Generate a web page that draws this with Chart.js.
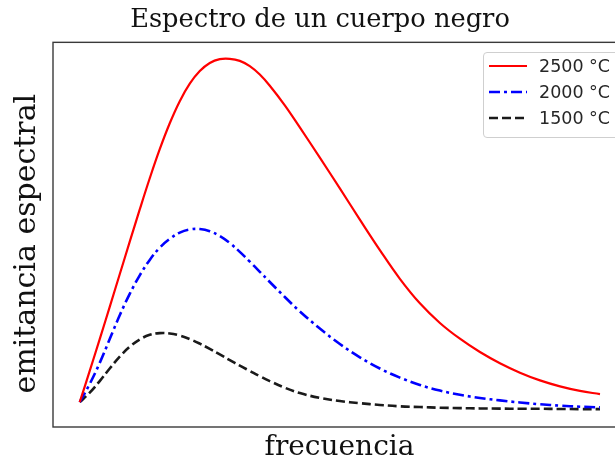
<!DOCTYPE html>
<html>
<head>
<meta charset="utf-8">
<script src="https://cdn.jsdelivr.net/npm/chart.js@4/dist/chart.umd.min.js"></script>
<style>
  html, body { margin: 0; padding: 0; background: #fff; overflow: hidden; }
  #wrap { position: relative; width: 640px; height: 464px; }
  #legend {
    position: absolute; left: 483px; top: 52px; width: 150px; height: 84px;
    border: 1px solid #cfcfcf; border-radius: 4px; background: rgba(255,255,255,0.85);
    font-family: "DejaVu Sans", sans-serif; font-size: 17.5px; color: #262626;
  }
  .row { position: absolute; left: 0; height: 26px; width: 150px; }
  .row svg { position: absolute; left: 5px; top: 0; }
  .row span { position: absolute; left: 55px; top: 0; line-height: 26px; white-space: nowrap; }
</style>
</head>
<body>
<div id="wrap">
  <canvas id="c" width="640" height="464"></canvas>
  <div id="legend"></div>
</div>
<script>
// Frequency (arbitrary units) and spectral emittance (arbitrary units) for each temperature
const frequency = [0.3, 0.4, 0.5, 0.6, 0.7, 0.8, 0.9, 1.0, 1.1, 1.2, 1.3, 1.4, 1.5, 1.6, 1.7, 1.8, 1.9, 2.0, 2.1, 2.2,
                   2.35, 2.5, 2.7, 2.9, 3.1, 3.3, 3.5, 3.7, 3.9, 4.1, 4.3, 4.5, 4.7, 4.9, 5.1, 5.3, 5.5];
const emit2500 = [2.0, 10.9, 20.0, 29.2, 38.5, 47.8, 57.0, 65.9, 74.2, 81.6, 87.9, 92.9, 96.5, 98.8, 99.9, 100.0, 99.4, 97.9, 95.5, 92.3,
                  86.7, 80.4, 71.8, 63.0, 54.1, 45.4, 37.2, 30.2, 24.6, 20.1, 16.3, 13.1, 10.4, 8.2, 6.5, 5.2, 4.3];
const emit2000 = [2.0, 7.2, 13.2, 20.0, 26.8, 32.9, 38.2, 42.6, 46.1, 48.6, 50.4, 51.3, 51.4, 50.8, 49.4, 47.4, 44.9, 42.1, 39.2, 36.3,
                  32.0, 27.9, 23.0, 18.6, 14.8, 11.6, 9.0, 6.9, 5.3, 4.1, 3.2, 2.5, 1.9, 1.4, 1.0, 0.7, 0.5];
const emit1500 = [2.0, 4.7, 8.0, 11.6, 15.0, 17.8, 19.9, 21.2, 21.7, 21.6, 21.0, 20.0, 18.7, 17.2, 15.6, 14.0, 12.4, 10.9, 9.4, 8.0,
                  6.1, 4.6, 3.2, 2.3, 1.7, 1.2, 0.8, 0.6, 0.4, 0.3, 0.2, 0.15, 0.1, 0.1, 0.05, 0.0, 0.0];
const seriesLabels = ['2500 °C', '2000 °C', '1500 °C'];

const toPoints = (ys) => frequency.map((f, i) => ({ x: f, y: ys[i] }));

const datasets = [
  { label: seriesLabels[0], data: toPoints(emit2500), borderColor: '#ff0000', borderWidth: 2.2, borderDash: [] },
  { label: seriesLabels[1], data: toPoints(emit2000), borderColor: '#0000ff', borderWidth: 2.6, borderDash: [11, 4, 3, 4] },
  { label: seriesLabels[2], data: toPoints(emit1500), borderColor: '#1a1a1a', borderWidth: 2.6, borderDash: [9, 4] }
].map(d => Object.assign(d, { pointRadius: 0, fill: false, tension: 0.4 }));

const serif = '"DejaVu Serif", serif';

// Closed frame around the plotting area, plus the vertical axis label
const frame = {
  id: 'frame',
  afterDatasetsDraw(chart) {
    const { ctx, chartArea: a } = chart;
    ctx.save();
    ctx.strokeStyle = '#3a3a3a';
    ctx.lineWidth = 1.4;
    ctx.strokeRect(a.left, a.top, a.right - a.left, a.bottom - a.top);
    ctx.translate(a.left - 26, (a.top + a.bottom) / 2 + 9);
    ctx.rotate(-Math.PI / 2);
    ctx.fillStyle = '#111';
    ctx.font = '30px ' + serif;
    ctx.textAlign = 'center';
    ctx.textBaseline = 'middle';
    ctx.fillText('emitancia espectral', 0, 0);
    ctx.restore();
  }
};

const chart = new Chart(document.getElementById('c'), {
  type: 'line',
  data: { datasets },
  plugins: [frame],
  options: {
    responsive: false,
    animation: false,
    devicePixelRatio: 1,
    layout: { padding: { left: 14, right: 14, top: 0, bottom: 0 } },
    plugins: {
      legend: { display: false },
      tooltip: { enabled: false },
      title: {
        display: true,
        text: 'Espectro de un cuerpo negro',
        color: '#111',
        font: { family: serif, size: 25.7, weight: 'normal', lineHeight: 1.2 },
        padding: { top: 5, bottom: 6.5 }
      }
    },
    scales: {
      x: {
        type: 'linear', min: 0.033, max: 5.76,
        ticks: { display: false },
        grid: { display: false, drawTicks: false },
        border: { display: false },
        title: { display: true, text: 'frecuencia', color: '#111',
                 font: { family: serif, size: 28, lineHeight: 1.0 }, padding: { top: 7, bottom: 2 } }
      },
      y: {
        min: -5.1, max: 104.7,
        ticks: { display: false },
        grid: { display: false, drawTicks: false },
        border: { display: false },
        afterFit(scale) { scale.width = 39; }
      }
    }
  }
});

// Legend built from the chart's own datasets
const legend = document.getElementById('legend');
chart.data.datasets.forEach((ds, i) => {
  const row = document.createElement('div');
  row.className = 'row';
  row.style.top = (i * 26) + 'px';
  const dash = ds.borderDash.length ? ds.borderDash.join(' ') : 'none';
  row.innerHTML =
    '<svg width="38" height="26"><line x1="0" y1="13" x2="38" y2="13" stroke="' + ds.borderColor +
    '" stroke-width="' + ds.borderWidth + '" stroke-dasharray="' + dash + '"/></svg>' +
    '<span>' + ds.label + '</span>';
  legend.appendChild(row);
});
</script>
</body>
</html>
